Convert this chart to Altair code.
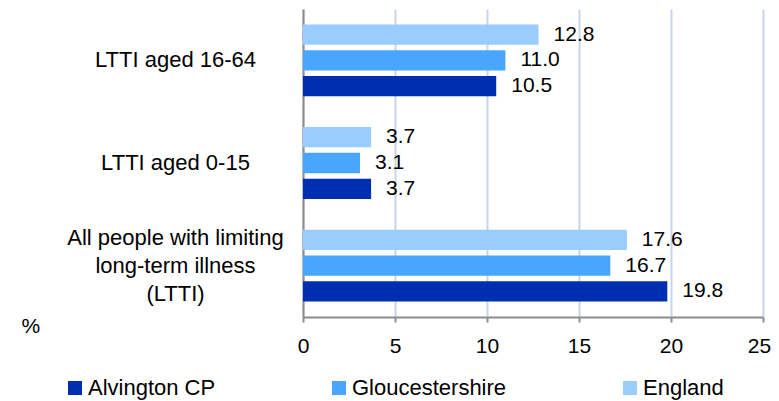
import altair as alt
import pandas as pd

categories = ["LTTI aged 16-64", "LTTI aged 0-15",
              "All people with limiting|long-term illness|(LTTI)"]
series = ["Alvington CP", "Gloucestershire", "England"]
alvington = [10.5, 3.7, 19.8]
gloucestershire = [11.0, 3.1, 16.7]
england = [12.8, 3.7, 17.6]
x_ticks = [0, 5, 10, 15, 20, 25]
colors = ["#002eb0", "#4aa5ff", "#99ccff"]

rows = []
for i, c in enumerate(categories):
    for s, vals in zip(series, [alvington, gloucestershire, england]):
        rows.append({"category": c, "series": s, "value": vals[i]})
df = pd.DataFrame(rows)

FONT = "Liberation Sans"
AXIS_GRAY = "#8c8c8c"

y = alt.Y(
    "category:N", sort=categories,
    scale=alt.Scale(paddingInner=0, paddingOuter=0),
    axis=alt.Axis(title=None, labelExpr="split(datum.label, '|')",
                  labelAlign="center", labelBaseline="middle", labelPadding=128,
                  labelOffset={"condition": {"test": "indexof(datum.value, '|') >= 0",
                                             "value": -28}, "value": 0},
                  ticks=False, labelFontSize=22, labelLineHeight=28,
                  labelLimit=400, domainColor=AXIS_GRAY, domainWidth=2,
                  labelColor="black", labelFont=FONT),
)
yoff = alt.YOffset("series:N", sort=["England", "Gloucestershire", "Alvington CP"],
                   scale=alt.Scale(paddingInner=0.213, paddingOuter=0.597))
x = alt.X(
    "value:Q", scale=alt.Scale(domain=[0, 25], nice=False),
    axis=alt.Axis(values=x_ticks, title="%", titleX=-282, titleY=9,
                  titleAlign="left", titleBaseline="middle", titleFontSize=21,
                  titleFontWeight="normal", titleFont=FONT, titleColor="black",
                  titleAngle=0, labelFontSize=21, labelFont=FONT, labelColor="black",
                  labelPadding=13, tickSize=5, tickColor=AXIS_GRAY, tickWidth=2,
                  labelOffset={"condition": {"test": "datum.value == 25", "value": -4},
                               "value": 0},
                  domainColor=AXIS_GRAY, domainWidth=2, gridColor="#c6d5ea",
                  gridWidth=2, labelFlush=False),
)
color = alt.Color(
    "series:N", sort=series,
    scale=alt.Scale(domain=series, range=colors),
    legend=alt.Legend(orient="none", legendX=-239, legendY=368,
                      direction="horizontal", columns=3, title=None,
                      symbolType="square", symbolSize=196, symbolStrokeWidth=0,
                      labelFontSize=22, labelFont=FONT, labelColor="black",
                      labelLimit=400, columnPadding=112, labelOffset=2),
)

bars = alt.Chart(df).mark_bar().encode(x=x, y=y, yOffset=yoff, color=color)
labels = alt.Chart(df).mark_text(align="left", baseline="middle", dx=15,
                                 fontSize=21, font=FONT, color="black").encode(
    x=alt.X("value:Q"), y=alt.Y("category:N", sort=categories), yOffset=yoff,
    text=alt.Text("value:Q", format=".1f"))

chart = alt.layer(bars, labels).properties(
    width=460, height=308,
    autosize=alt.AutoSizeParams(type="none"),
    padding={"left": 295, "top": 1, "right": 8, "bottom": 83},
).configure_view(stroke=None)

chart.save("out.html", embed_options={"renderer": "svg", "actions": False})
